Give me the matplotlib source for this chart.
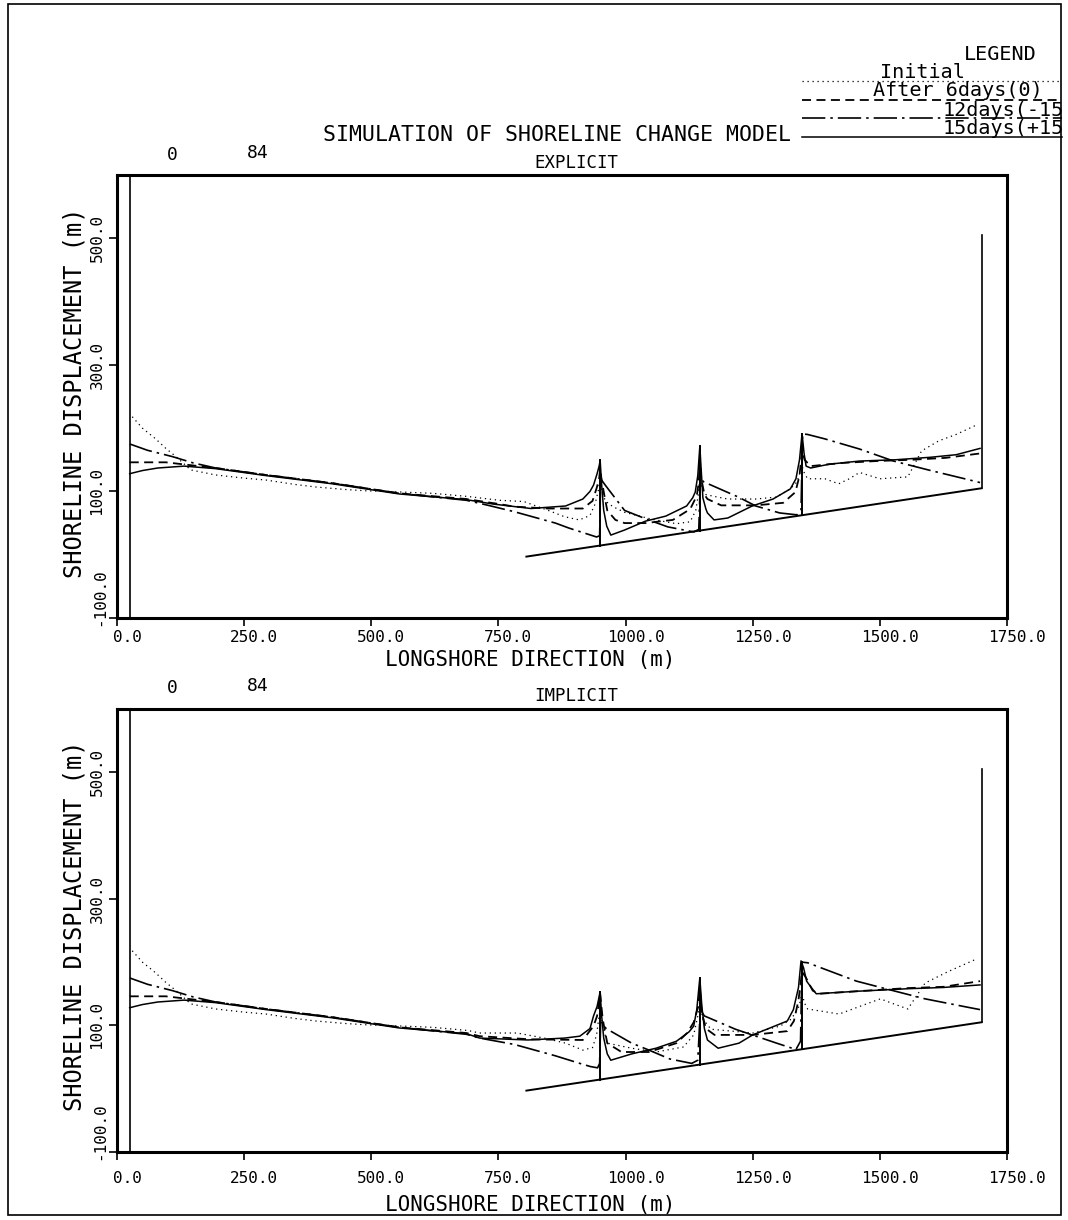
import matplotlib.pyplot as plt
from matplotlib.lines import Line2D
from matplotlib.patches import Rectangle
from matplotlib.transforms import ScaledTranslation

plt.rcParams["font.family"] = ["DejaVu Sans Mono"]

W, H = 1068, 1220

# ---- EXPLICIT run (top panel) ----
ex_init_x = [30, 50, 76, 96, 116, 145, 194, 250, 293, 350, 391, 450, 490, 560, 621, 690, 752, 800,
             848, 880, 909, 930, 940, 946, 950, 954, 960, 975, 998, 1052, 1100, 1127, 1138, 1143,
             1146, 1150, 1158, 1175, 1201, 1256, 1296, 1324, 1337, 1343, 1347, 1352, 1358, 1392,
             1419, 1440, 1460, 1500, 1555, 1582, 1616, 1650, 1690]
ex_init_y = [218, 200, 183, 168, 155, 134, 126, 121, 118, 111, 107, 103, 101, 99, 97, 92, 86, 84,
             70, 60, 55, 62, 80, 100, 118, 100, 85, 76, 67, 56, 49, 52, 70, 95,
             125, 105, 95, 92, 88, 88, 91, 104, 115, 130, 140, 128, 120, 120,
             112, 120, 130, 120, 123, 164, 180, 190, 205]

ex_6d_x = [25, 60, 96, 150, 194, 293, 424, 555, 687, 752, 781, 848, 916, 935, 943, 948, 950, 953,
           958, 964, 980, 998, 1039, 1093, 1127, 1140, 1144, 1146, 1149, 1155, 1161, 1188, 1256,
           1310, 1334, 1342, 1347, 1352, 1358, 1364, 1426, 1493, 1561, 1629, 1697]
ex_6d_y = [146, 146, 146, 141, 137, 126, 113, 97, 88, 80, 76, 73, 73, 85, 105, 120, 135, 118,
           95, 70, 55, 50, 50, 55, 72, 93, 115, 150, 120, 95, 88, 78, 78,
           82, 99, 125, 165, 150, 145, 140, 145, 148, 150, 153, 160]

ex_12d_x = [25, 60, 109, 150, 194, 293, 424, 555, 687, 730, 781, 862, 889, 916, 943, 949, 951, 960,
            998, 1045, 1083, 1134, 1144, 1147, 1154, 1222, 1256, 1303, 1337, 1345, 1348, 1358,
            1392, 1460, 1527, 1595, 1677, 1697]
ex_12d_y = [175, 165, 155, 145, 137, 126, 113, 97, 86, 78, 68, 50, 42, 35, 28, 30, 120, 110,
            70, 55, 44, 36, 40, 120, 115, 91, 77, 66, 63, 70, 191, 190,
            183, 167, 148, 134, 118, 114]

ex_15d_x = [25, 50, 80, 132, 194, 293, 424, 555, 687, 740, 814, 882, 916, 930, 937, 944, 948, 950,
            953, 957, 963, 971, 998, 1039, 1079, 1120, 1132, 1137, 1142, 1146, 1149, 1152, 1158,
            1161, 1174, 1201, 1249, 1290, 1324, 1335, 1342, 1347, 1351, 1355, 1364, 1400, 1460,
            1530, 1600, 1650, 1697]
ex_15d_y = [128, 133, 137, 140, 136, 125, 112, 96, 87, 80, 73, 77, 88, 100, 110, 128, 140, 149,
            110, 70, 45, 31, 39, 53, 61, 77, 90, 99, 125, 171, 130, 90, 72,
            66, 55, 58, 77, 88, 104, 120, 150, 191, 160, 140, 137, 143, 148,
            150, 154, 158, 168]

# ---- IMPLICIT run (bottom panel) ----
im_init_x = [30, 50, 76, 96, 116, 145, 194, 250, 293, 350, 391, 450, 490, 560, 621, 690, 713, 787,
             840, 882, 916, 935, 943, 947, 950, 955, 964, 1012, 1060, 1114, 1134, 1142, 1146, 1152,
             1168, 1250, 1304, 1326, 1341, 1347, 1352, 1358, 1420, 1467, 1501, 1524, 1555, 1589,
             1634, 1690]
im_init_y = [218, 200, 183, 168, 155, 134, 126, 121, 118, 111, 107, 103, 101, 99, 97, 92, 88, 88,
             80, 72, 61, 65, 85, 110, 125, 100, 72, 64, 58, 66, 85, 115, 135, 110,
             94, 88, 99, 110, 130, 150, 135, 126, 118, 132, 142, 135, 126, 167,
             185, 205]

im_6d_x = [25, 60, 96, 150, 194, 293, 424, 555, 687, 713, 814, 916, 937, 944, 950, 955, 964, 992,
           1046, 1100, 1121, 1134, 1143, 1146, 1150, 1158, 1175, 1250, 1318, 1331, 1340, 1347,
           1355, 1368, 1380, 1455, 1555, 1625, 1697]
im_6d_y = [146, 146, 146, 141, 137, 126, 113, 97, 88, 83, 78, 77, 99, 115, 150, 110, 72, 58,
           58, 72, 88, 105, 130, 160, 120, 95, 85, 85, 91, 107, 140, 185,
           175, 155, 150, 154, 159, 161, 170]

im_12d_x = [25, 60, 109, 150, 194, 293, 424, 555, 687, 713, 781, 862, 910, 931, 945, 949, 951, 962,
            1012, 1046, 1087, 1130, 1142, 1147, 1155, 1216, 1297, 1335, 1344, 1347, 1358, 1454,
            1521, 1589, 1671, 1697]
im_12d_y = [175, 165, 155, 145, 137, 126, 113, 97, 86, 80, 70, 52, 40, 35, 33, 40, 105, 95,
            72, 61, 47, 40, 45, 125, 115, 94, 72, 62, 75, 200, 199, 170,
            156, 142, 129, 125]

im_15d_x = [25, 50, 80, 132, 194, 293, 424, 555, 687, 713, 808, 880, 910, 930, 937, 944, 950, 953,
            957, 964, 971, 1012, 1060, 1100, 1125, 1134, 1140, 1146, 1150, 1155, 1161, 1182, 1223,
            1250, 1318, 1330, 1340, 1345, 1350, 1356, 1365, 1375, 1455, 1555, 1625, 1697]
im_15d_y = [128, 133, 137, 140, 136, 125, 112, 96, 87, 80, 77, 80, 83, 95, 115, 130, 153, 115,
            80, 55, 45, 55, 64, 75, 90, 99, 125, 175, 130, 95, 77, 64, 72,
            85, 107, 125, 160, 202, 191, 170, 160, 150, 154, 158, 160, 164]

# ---- structures (same in both runs) ----
wall_left_x, wall_left_y = [25, 25], [-100, 600]
wall_right_x, wall_right_y = [1700, 1700], [105, 505]
base_x, base_y = [805, 1700], [-3, 105]
groyne_x = [950, 1146, 1347]
groyne_base = [14, 38, 62]
ex_groyne_top = [149, 171, 191]
im_groyne_top = [153, 175, 200]

xticks = [0, 250, 500, 750, 1000, 1250, 1500, 1750]
yticks = [-100, 100, 300, 500]

STYLES = {
    "init": dict(linestyle=(0, (1, 3)), linewidth=0.9),
    "6d": dict(linestyle=(0, (5, 3)), linewidth=1.3),
    "12d": dict(linestyle=(0, (14, 3, 1.5, 3)), linewidth=1.2),
    "15d": dict(linestyle="-", linewidth=1.1),
}


def fx(px):
    return px / W


def fy(py):
    return 1 - py / H


def draw_panel(ax, series, gtop, xpad):
    for key, (x, y) in series.items():
        ax.plot(x, y, color="black", **STYLES[key])
    ax.plot(wall_left_x, wall_left_y, color="black", lw=1.2)
    ax.plot(wall_right_x, wall_right_y, color="black", lw=1.2)
    ax.plot(base_x, base_y, color="black", lw=1.4)
    for gx, gb, gt in zip(groyne_x, groyne_base, gtop):
        ax.plot([gx, gx], [gb, gt], color="black", lw=1.4)
    ax.set_xlim(0, 1750)
    ax.set_ylim(-100, 600)
    ax.set_xticks(xticks)
    ax.set_xticklabels([f"{v:.1f}" for v in xticks], fontsize=11.5)
    ax.set_yticks(yticks)
    # the plotter wrote the lowest label a little above its tick
    ax.set_yticklabels([""] + [f"{v:.1f}" for v in yticks[1:]], fontsize=11.5,
                       rotation=90, va="center")
    ax.annotate(f"{yticks[0]:.1f}", xy=(0, yticks[0]), xycoords=("axes fraction", "data"),
                xytext=(-17, 21), textcoords="offset pixels", rotation=90,
                ha="center", va="center", fontsize=11.5)
    ax.tick_params(direction="out", length=6, width=1.2, pad=3)
    ax.tick_params(axis="x", pad=xpad)
    shift = ScaledTranslation(10 / 100, 0, ax.figure.dpi_scale_trans)
    for lab in ax.get_xticklabels():
        lab.set_transform(lab.get_transform() + shift)
    for s in ax.spines.values():
        s.set_linewidth(2.2)


fig = plt.figure(figsize=(W / 100, H / 100), dpi=100)

ax1 = fig.add_axes([fx(117), fy(618), fx(1007) - fx(117), fy(175) - fy(618)])
draw_panel(ax1, {"init": (ex_init_x, ex_init_y), "6d": (ex_6d_x, ex_6d_y),
                 "12d": (ex_12d_x, ex_12d_y), "15d": (ex_15d_x, ex_15d_y)},
           ex_groyne_top, 3)

ax2 = fig.add_axes([fx(117), fy(1152), fx(1007) - fx(117), fy(709) - fy(1152)])
draw_panel(ax2, {"init": (im_init_x, im_init_y), "6d": (im_6d_x, im_6d_y),
                 "12d": (im_12d_x, im_12d_y), "15d": (im_15d_x, im_15d_y)},
           im_groyne_top, 8)

# axis labels and panel headers
for off, xl_y, name in [(0, 660, "EXPLICIT"), (533, 1205, "IMPLICIT")]:
    fig.text(fx(75), fy(393 + off), "SHORELINE DISPLACEMENT (m)", rotation=90,
             ha="center", va="center", fontsize=17)
    fig.text(fx(530), fy(xl_y), "LONGSHORE DIRECTION (m)", ha="center",
             va="center", fontsize=15)
    fig.text(fx(172), fy(155 + off), "0", ha="center", va="center", fontsize=13)
    fig.text(fx(258), fy(153 + off), "84", ha="center", va="center", fontsize=13)
    fig.text(fx(576), fy(163 + off), name, ha="center", va="center", fontsize=12.5)

fig.text(fx(557), fy(135), "SIMULATION OF SHORELINE CHANGE MODEL", ha="center",
         va="center", fontsize=15.5)

# hand-drawn legend block
fig.text(fx(1000), fy(55), "LEGEND", ha="center", va="center", fontsize=14.5)
legend_rows = [
    ("Initial", "init", 922, 72, 81),
    ("After 6days(0)", "6d", 958, 91, 100),
    ("12days(-15", "12d", 1003, 110, 118),
    ("15days(+15", "15d", 1003, 128, 137),
]
for label, key, tx, ty, ly in legend_rows:
    fig.text(fx(tx), fy(ty), label, ha="center", va="center", fontsize=14.5)
    fig.add_artist(Line2D([fx(802), fx(1062)], [fy(ly), fy(ly)], color="black",
                          transform=fig.transFigure, **STYLES[key]))

# outer frame of the plotter sheet
fig.add_artist(Rectangle((fx(8), fy(1215)), fx(1061) - fx(8), fy(4) - fy(1215),
                         transform=fig.transFigure, fill=False, lw=1.2, color="black"))

fig.savefig("out.png", dpi=100)
